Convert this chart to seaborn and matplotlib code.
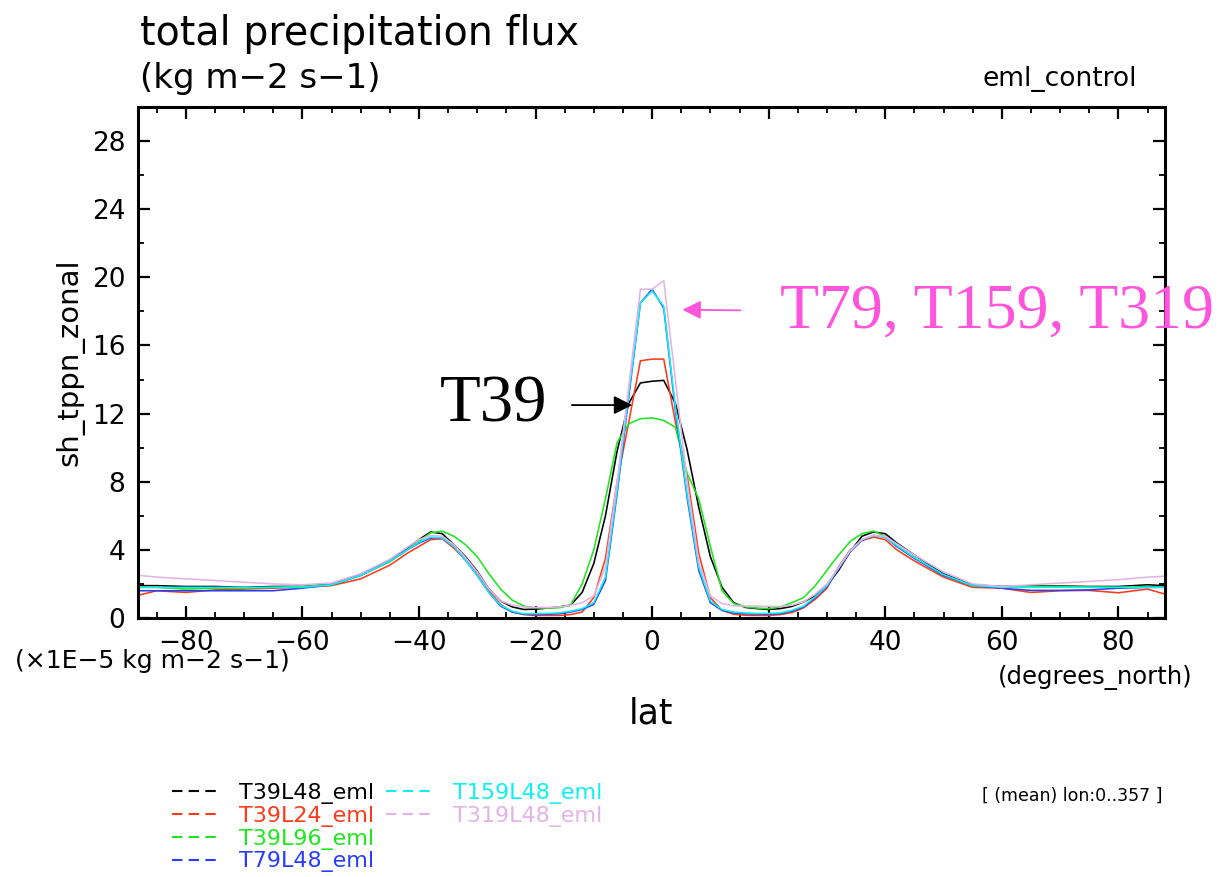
import matplotlib
matplotlib.use("Agg")
import matplotlib.pyplot as plt
from matplotlib.lines import Line2D
from matplotlib.ticker import MultipleLocator
import pandas as pd
import seaborn as sns

# latitude grid (degrees north) and zonal-mean precipitation (x1E-5 kg m-2 s-1)
LAT = [-88, -85, -80, -75, -70, -65, -60, -55, -50, -45, -42, -40, -38, -36, -34,
       -32, -30, -28, -26, -24, -22, -20, -18, -16, -14, -12, -10, -8, -6, -4,
       -2, 0, 2, 4, 6, 8, 10, 12, 14, 16, 18, 20, 22, 24, 26, 28, 30, 32, 34,
       36, 38, 40, 42, 45, 50, 55, 60, 65, 70, 75, 80, 85, 88]

T39L48 = [1.9, 1.9, 1.85, 1.85, 1.8, 1.85, 1.85, 2.0, 2.55, 3.4, 4.1, 4.6, 5.05, 4.95, 4.3,
          3.6, 2.75, 1.7, 1.0, 0.65, 0.5, 0.52, 0.58, 0.65, 0.75, 1.5, 3.2, 6.0, 9.8, 12.6,
          13.8, 13.9, 13.95, 12.6, 9.9, 6.5, 3.6, 1.8, 0.9, 0.62, 0.55, 0.5, 0.55, 0.68, 0.95, 1.3, 1.9, 2.8, 3.9,
          4.8, 5.05, 4.95, 4.4, 3.7, 2.6, 1.95, 1.85, 1.88, 1.88, 1.85, 1.85, 1.95, 1.9]
T39L24 = [1.35, 1.6, 1.5, 1.65, 1.7, 1.75, 1.8, 1.9, 2.3, 3.1, 3.8, 4.2, 4.6, 4.65, 4.1,
          3.4, 2.6, 1.6, 0.8, 0.35, 0.2, 0.15, 0.15, 0.15, 0.2, 0.35, 1.2, 3.5, 8.0, 11.5,
          15.1, 15.2, 15.2, 11.5, 8.4, 3.8, 1.2, 0.45, 0.22, 0.16, 0.15, 0.15, 0.2, 0.32, 0.6, 1.1, 1.75, 3.0, 4.0,
          4.55, 4.75, 4.6, 4.0, 3.35, 2.4, 1.8, 1.75, 1.5, 1.6, 1.62, 1.48, 1.7, 1.4]
T39L96 = [1.8, 1.8, 1.7, 1.75, 1.75, 1.8, 1.85, 1.95, 2.5, 3.3, 4.0, 4.5, 5.0, 5.1, 4.8,
          4.3, 3.6, 2.6, 1.7, 1.05, 0.7, 0.6, 0.58, 0.6, 0.75, 2.0, 4.0, 7.0, 10.3, 11.4,
          11.7, 11.75, 11.6, 11.2, 8.5, 7.0, 4.2, 1.6, 0.85, 0.65, 0.58, 0.55, 0.65, 0.9, 1.2, 1.9, 2.8, 3.7, 4.5,
          4.95, 5.1, 4.8, 4.2, 3.55, 2.5, 1.9, 1.8, 1.85, 1.85, 1.82, 1.8, 1.85, 1.8]
T79L48 = [1.6, 1.6, 1.6, 1.6, 1.6, 1.6, 1.75, 1.95, 2.5, 3.35, 4.0, 4.4, 4.7, 4.7, 4.2,
          3.4, 2.5, 1.5, 0.7, 0.35, 0.22, 0.2, 0.22, 0.25, 0.35, 0.5, 0.8, 2.2, 7.3, 13.0,
          18.5, 19.3, 18.2, 12.2, 7.1, 2.8, 0.9, 0.45, 0.3, 0.25, 0.23, 0.22, 0.25, 0.4, 0.65, 1.2, 1.85, 2.9, 3.9,
          4.55, 4.85, 4.75, 4.2, 3.5, 2.5, 1.9, 1.75, 1.62, 1.62, 1.65, 1.75, 1.8, 1.8]
T159L48 = [1.8, 1.8, 1.8, 1.8, 1.8, 1.8, 1.8, 1.95, 2.5, 3.35, 4.0, 4.45, 4.75, 4.7, 4.2,
           3.4, 2.5, 1.5, 0.75, 0.4, 0.25, 0.25, 0.27, 0.3, 0.4, 0.55, 0.9, 2.4, 7.5, 13.2,
           18.5, 19.2, 18.3, 12.4, 7.3, 3.0, 1.0, 0.5, 0.35, 0.3, 0.27, 0.27, 0.3, 0.45, 0.7, 1.25, 1.9, 2.95, 3.95,
           4.6, 4.85, 4.75, 4.25, 3.55, 2.55, 1.9, 1.8, 1.8, 1.8, 1.8, 1.8, 1.8, 1.8]
T319L48 = [2.5, 2.4, 2.3, 2.2, 2.1, 2.0, 1.95, 2.05, 2.6, 3.45, 4.15, 4.6, 4.85, 4.8, 4.3,
           3.55, 2.7, 1.7, 1.0, 0.75, 0.65, 0.62, 0.62, 0.65, 0.75, 0.9, 1.3, 3.0, 8.0, 13.6,
           19.3, 19.3, 19.8, 14.0, 8.0, 3.3, 1.3, 0.85, 0.72, 0.7, 0.7, 0.68, 0.68, 0.75, 0.95, 1.4, 2.0, 2.95, 3.95,
           4.6, 4.85, 4.8, 4.35, 3.7, 2.7, 2.0, 1.85, 1.95, 2.05, 2.15, 2.25, 2.4, 2.45]

RUNS = ["T39L48_eml", "T39L24_eml", "T39L96_eml", "T79L48_eml", "T159L48_eml", "T319L48_eml"]
COLORS = ["#000000", "#ff3a1a", "#1ee61e", "#2a3cff", "#10f0f0", "#e2b4e6"]

df = pd.DataFrame({"lat": LAT, "T39L48_eml": T39L48, "T39L24_eml": T39L24,
                   "T39L96_eml": T39L96, "T79L48_eml": T79L48,
                   "T159L48_eml": T159L48, "T319L48_eml": T319L48})
long = df.melt(id_vars="lat", var_name="run", value_name="tppn")

sns.set_theme(style="ticks")
plt.rcParams["font.family"] = ["DejaVu Sans"]
plt.rcParams.update({"text.color": "black", "axes.labelcolor": "black",
                     "xtick.color": "black", "ytick.color": "black"})

W, H = 1220, 877
fig = plt.figure(figsize=(W / 100, H / 100), dpi=100)
ax = fig.add_axes([138 / W, 1 - 618 / H, 1027 / W, 511 / H])

palette = dict(zip(RUNS, COLORS))
sns.lineplot(data=long, x="lat", y="tppn", hue="run", hue_order=RUNS,
             palette=palette, linewidth=1.15, legend=False, ax=ax,
             estimator=None, sort=True)

ax.set_xlim(-88.2, 88)
ax.set_ylim(0, 30)
ax.xaxis.set_major_locator(MultipleLocator(20))
ax.xaxis.set_minor_locator(MultipleLocator(5))
ax.yaxis.set_minor_locator(MultipleLocator(2))
ax.set_yticks([0, 4, 8, 12, 16, 20, 24, 28])
ax.tick_params(which="both", direction="in", top=True, right=True, colors="black")
ax.tick_params(which="major", length=8.5, width=1.6, labelsize=19, pad=9)
ax.tick_params(which="minor", length=4.3, width=1.3)
for s in ax.spines.values():
    s.set_linewidth(2.2)
    s.set_color("black")

ax.set_xlabel("lat", fontsize=25, va="top")
ax.xaxis.set_label_coords(0.5, (618 - 697) / 511)
ax.set_ylabel("sh_tppn_zonal", fontsize=21, va="center")
ax.yaxis.set_label_coords((70 - 138) / 1027, 0.5)

# header texts
fig.text(140 / W, 1 - 45 / H, "total precipitation flux", fontsize=28.5, va="baseline")
fig.text(140 / W, 1 - 88 / H, "(kg m\u22122 s\u22121)", fontsize=24.5, va="baseline")
fig.text(1137 / W, 1 - 86 / H, "eml_control", fontsize=19, ha="right", va="baseline")
fig.text(15 / W, 1 - 668 / H, "(\u00d71E\u22125 kg m\u22122 s\u22121)", fontsize=18, va="baseline")
fig.text(1192 / W, 1 - 684 / H, "(degrees_north)", fontsize=17.5, ha="right", va="baseline")
fig.text(1163 / W, 1 - 801 / H, "[ (mean) lon:0..357 ]", fontsize=12.5, ha="right", va="baseline")

# annotations
ax.annotate("T39", xy=(-3.4, 12.5), xytext=(-17.9, 12.5), fontsize=48,
            family=["Liberation Serif"], ha="right", va="center", color="black",
            arrowprops=dict(arrowstyle="-|>", color="black", lw=1.3,
                            mutation_scale=28, shrinkA=15, shrinkB=0))
ax.annotate("T79, T159, T319", xy=(5.2, 18.1), xytext=(21.9, 17.9), fontsize=46,
            family=["Liberation Serif"], ha="left", va="center", color="#ff55dd",
            arrowprops=dict(arrowstyle="-|>", color="#ff55dd", lw=1.3,
                            mutation_scale=28, shrinkA=26, shrinkB=0))

# legend: 4 + 2 layout with coloured labels
handles = [Line2D([], [], color=c, lw=1.5, dashes=(5, 3)) for c in COLORS]
labels = list(RUNS)
handles += [Line2D([], [], color="none")] * 2
labels += ["", ""]
leg = fig.legend(handles, labels, ncol=2, loc="upper left",
                 bbox_to_anchor=(172 / W, 1 - 783 / H), frameon=False,
                 fontsize=16, handlelength=2.1, handletextpad=0.9,
                 labelspacing=0.08, columnspacing=0.55, borderpad=0, borderaxespad=0)
for txt, c in zip(leg.get_texts(), COLORS + ["none", "none"]):
    txt.set_color(c)

fig.savefig("out.png", dpi=100)
